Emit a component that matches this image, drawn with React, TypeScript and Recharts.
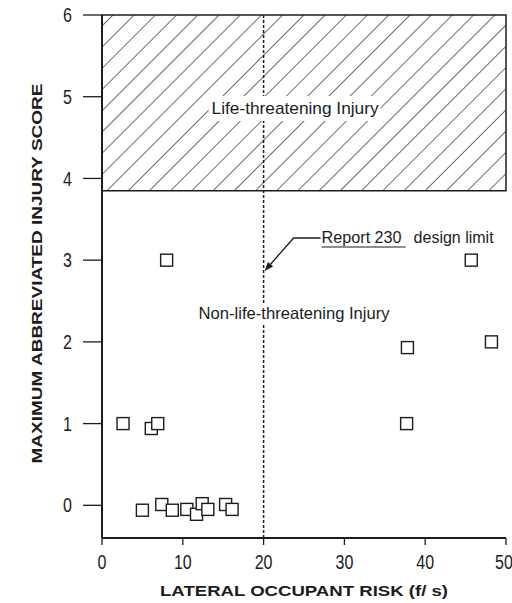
import React from 'react';
import {
  ScatterChart,
  Scatter,
  XAxis,
  YAxis,
  ReferenceArea,
  ReferenceLine,
} from 'recharts';

// lateral occupant risk (f/s) and max AIS
const riskValues = [2.6, 6.1, 6.9, 37.7, 5.0, 7.4, 8.7, 10.5, 11.7, 12.4, 13.1, 15.3, 16.1, 8.0, 45.7, 37.8, 48.2];
const scoreValues = [1.0, 0.94, 1.0, 1.0, -0.06, 0.01, -0.06, -0.05, -0.11, 0.02, -0.05, 0.01, -0.05, 3.0, 3.0, 1.93, 2.0];

const xTicks = [0, 10, 20, 30, 40, 50];
const yTicks = [0, 1, 2, 3, 4, 5, 6];
const designLimit = 20;
const lifeThreatLevel = 3.85;

const points = riskValues.map((x, i) => ({ x, y: scoreValues[i] }));

const INK = '#1c1c1c';
const DRAFT = "'Liberation Sans', Arial, sans-serif";
const BOLD = "'Liberation Sans', Arial, sans-serif";

const SquareMark = (props: any) => {
  const { cx, cy } = props;
  if (cx == null || cy == null) return null;
  return <rect x={cx - 6} y={cy - 6} width={12} height={12} fill="#fff" stroke={INK} strokeWidth={1.4} />;
};

// narrow, drafting-style tick numbers
const XTick = (props: any) => {
  const { x, y, payload } = props;
  return (
    <g transform={`translate(${x},${y})`}>
      <text transform="scale(0.8,1)" textAnchor="middle" dy="0.71em" fontFamily={DRAFT} fontSize={20} fill={INK}>
        {payload.value}
      </text>
    </g>
  );
};

const YTick = (props: any) => {
  const { x, y, payload } = props;
  return (
    <g transform={`translate(${x},${y})`}>
      <text transform="scale(0.8,1)" textAnchor="end" dy="0.355em" fontFamily={DRAFT} fontSize={20} fill={INK}>
        {payload.value}
      </text>
    </g>
  );
};

// text and arrow hung off the design-limit line
const Annotations = (props: any) => {
  const vb = props.viewBox || {};
  const lx = vb.x ?? 0;
  const top = vb.y ?? 0;
  const tipX = lx + 1;
  const tipY = top + 256;
  const bendX = lx + 30;
  const bendY = top + 223;
  const ang = Math.atan2(tipY - bendY, tipX - bendX);
  const ah = 9;
  const aw = 3.5;
  const bx = tipX - ah * Math.cos(ang);
  const by = tipY - ah * Math.sin(ang);
  const p1 = `${bx - aw * Math.sin(ang)},${by + aw * Math.cos(ang)}`;
  const p2 = `${bx + aw * Math.sin(ang)},${by - aw * Math.cos(ang)}`;
  return (
    <g fontFamily={DRAFT} fill={INK}>
      <rect x={lx - 55} y={top + 81} width={172} height={25} fill="#fff" />
      <text x={lx - 52} y={top + 99} fontSize={17} textLength={167} lengthAdjust="spacingAndGlyphs">
        Life-threatening Injury
      </text>
      <rect x={lx - 68} y={top + 288} width={196} height={20} fill="#fff" />
      <text x={lx - 65} y={top + 304} fontSize={16.5} textLength={191} lengthAdjust="spacingAndGlyphs">
        Non-life-threatening Injury
      </text>
      <polyline
        points={`${lx + 57},${bendY} ${bendX},${bendY} ${bx},${by}`}
        fill="none"
        stroke={INK}
        strokeWidth={1.3}
      />
      <polygon points={`${tipX},${tipY} ${p1} ${p2}`} fill={INK} />
      <text x={lx + 58} y={top + 228} fontSize={16} textLength={80} lengthAdjust="spacingAndGlyphs">
        Report 230
      </text>
      <line x1={lx + 58} x2={lx + 142} y1={top + 232} y2={top + 232} stroke={INK} strokeWidth={1.2} />
      <text x={lx + 150} y={top + 228} fontSize={16} textLength={80} lengthAdjust="spacingAndGlyphs">
        design limit
      </text>
    </g>
  );
};

const YTitle = (props: any) => {
  const vb = props.viewBox || {};
  const cy = (vb.y ?? 0) + (vb.height ?? 0) / 2 - 3;
  const cx = 36;
  return (
    <text
      x={cx}
      y={cy}
      transform={`rotate(-90 ${cx} ${cy})`}
      textAnchor="middle"
      dominantBaseline="central"
      fontFamily={BOLD}
      fontWeight="bold"
      fontSize={15.5}
      textLength={380}
      lengthAdjust="spacingAndGlyphs"
      fill={INK}
    >
      MAXIMUM ABBREVIATED INJURY SCORE
    </text>
  );
};

const XTitle = (props: any) => {
  const vb = props.viewBox || {};
  const cx = (vb.x ?? 0) + (vb.width ?? 0) / 2;
  return (
    <text
      x={cx}
      y={596}
      textAnchor="middle"
      fontFamily={BOLD}
      fontWeight="bold"
      fontSize={15.5}
      textLength={288}
      lengthAdjust="spacingAndGlyphs"
      fill={INK}
    >
      LATERAL OCCUPANT RISK (f/ s)
    </text>
  );
};

export default function App() {
  return (
    <div style={{ position: 'absolute', left: 0, top: 0, background: '#fff' }}>
      <ScatterChart width={512} height={603} margin={{ top: 15, right: 6, bottom: 0, left: 0 }}>
        <defs>
          <pattern id="hatch" patternUnits="userSpaceOnUse" width={15} height={15} patternTransform="rotate(45)">
            <line x1={0} y1={0} x2={0} y2={15} stroke={INK} strokeWidth={1.3} />
          </pattern>
        </defs>
        <XAxis
          type="number"
          dataKey="x"
          domain={[0, 50]}
          ticks={xTicks}
          height={65}
          tickSize={7}
          tickMargin={10}
          tick={<XTick />}
          axisLine={{ stroke: INK, strokeWidth: 2 }}
          tickLine={{ stroke: INK, strokeWidth: 1.3 }}
          label={<XTitle />}
        />
        <XAxis
          xAxisId="top"
          orientation="top"
          type="number"
          domain={[0, 50]}
          height={0}
          tick={false}
          tickLine={false}
          axisLine={{ stroke: INK, strokeWidth: 2 }}
        />
        <YAxis
          type="number"
          dataKey="y"
          domain={[-0.4, 6]}
          ticks={yTicks}
          width={102}
          tickSize={19}
          tickMargin={11}
          tick={<YTick />}
          allowDataOverflow
          axisLine={{ stroke: INK, strokeWidth: 2 }}
          tickLine={{ stroke: INK, strokeWidth: 1.3 }}
          label={<YTitle />}
        />
        <YAxis
          yAxisId="right"
          orientation="right"
          type="number"
          domain={[-0.4, 6]}
          width={0}
          tick={false}
          tickLine={false}
          axisLine={{ stroke: INK, strokeWidth: 2 }}
        />
        <ReferenceArea
          y1={lifeThreatLevel}
          y2={6}
          fill="url(#hatch)"
          fillOpacity={1}
          stroke={INK}
          strokeWidth={1.5}
          ifOverflow="visible"
        />
        <ReferenceLine
          x={designLimit}
          stroke={INK}
          strokeWidth={1.5}
          strokeDasharray="3 2"
          label={<Annotations />}
        />
        <Scatter data={points} shape={<SquareMark />} isAnimationActive={false} />
      </ScatterChart>
    </div>
  );
}
